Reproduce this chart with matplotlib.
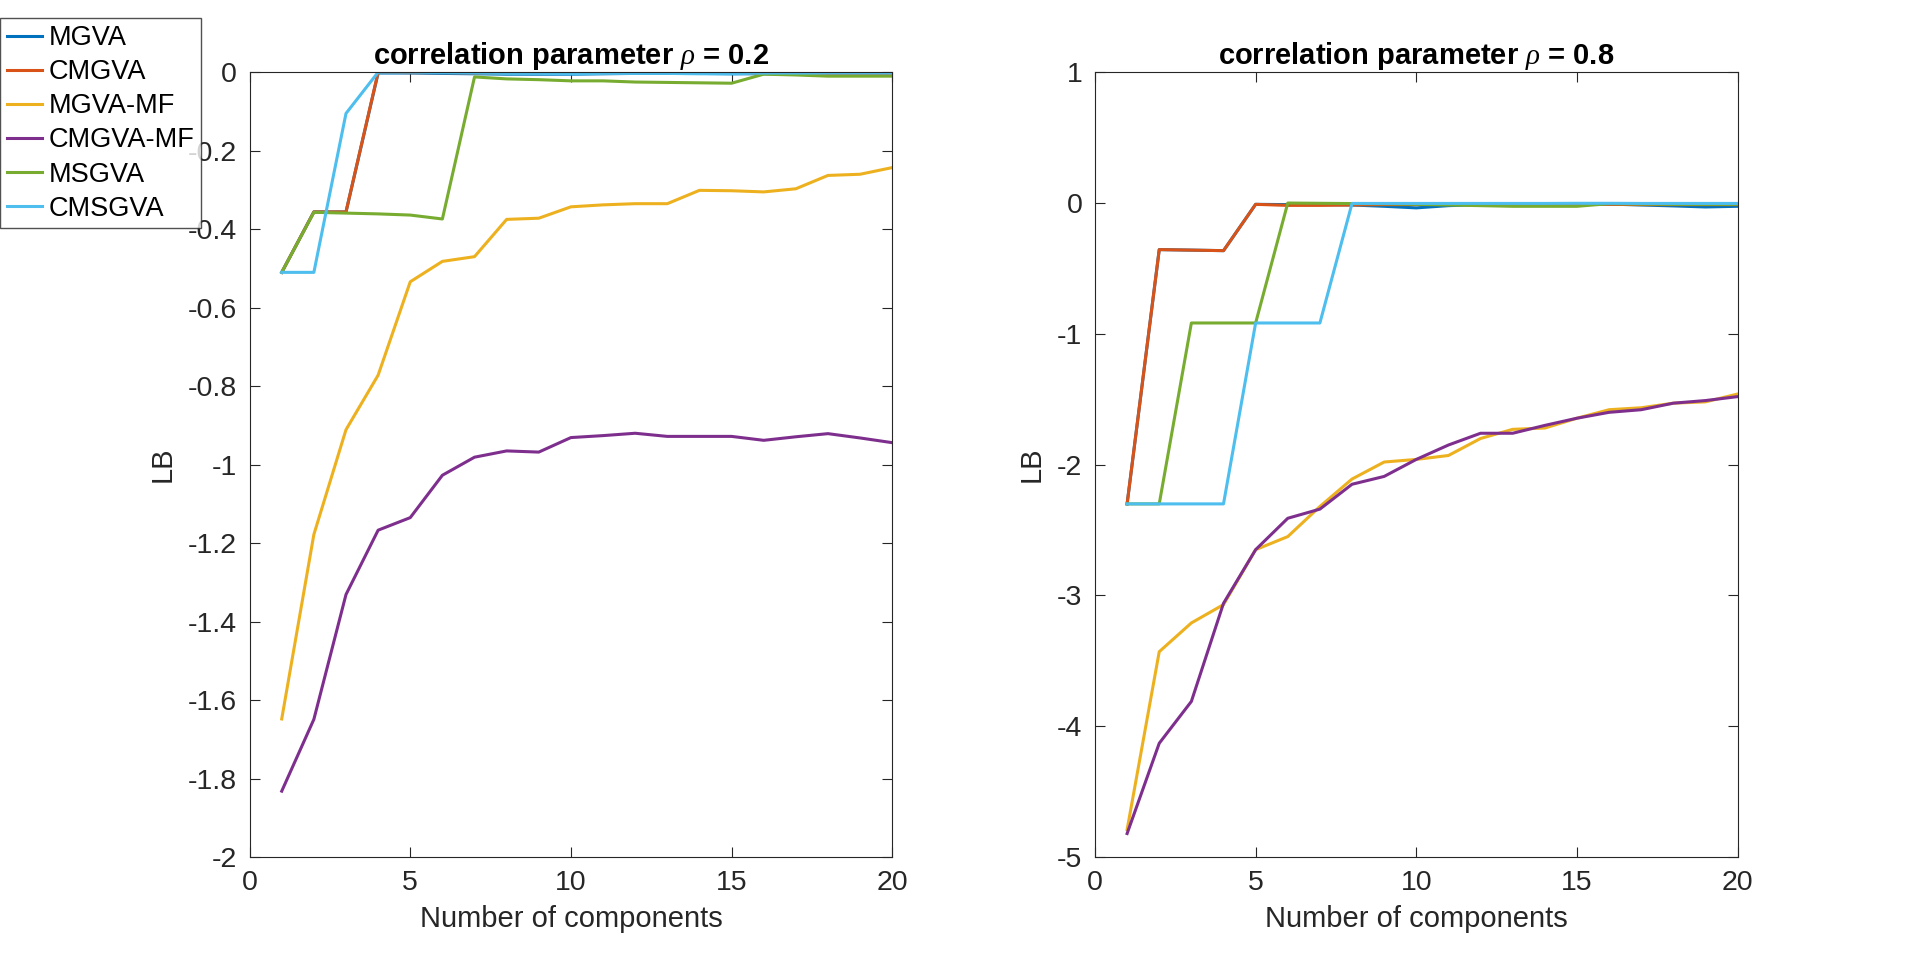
import numpy as np
import matplotlib.pyplot as plt

plt.rcParams['font.family'] = ['Liberation Sans', 'DejaVu Sans']
plt.rcParams['mathtext.fontset'] = 'custom'
plt.rcParams['mathtext.it'] = 'Liberation Serif:italic'

# number of mixture components
k = np.arange(1, 21)

labels = ['MGVA', 'CMGVA', 'MGVA-MF', 'CMGVA-MF', 'MSGVA', 'CMSGVA']
colors = ['#0072BD', '#D95319', '#EDB120', '#7E2F8E', '#77AC30', '#4DBEEE']

# rho = 0.2
mgva_02 = [-0.51, -0.356, -0.356, -0.002, -0.002, -0.003, -0.004, -0.005, -0.005, -0.005,
           -0.004, -0.003, -0.003, -0.003, -0.004, -0.004, -0.004, -0.005, -0.005, -0.005]
cmgva_02 = [-0.51, -0.356, -0.356, 0.0, -0.001, -0.001, -0.002, -0.002, -0.002, -0.002,
            -0.002, -0.001, -0.001, -0.002, -0.002, -0.003, -0.005, -0.007, -0.008, -0.008]
mgvamf_02 = [-1.648, -1.178, -0.911, -0.772, -0.534, -0.482, -0.470, -0.375, -0.372, -0.343,
             -0.338, -0.335, -0.335, -0.301, -0.302, -0.305, -0.297, -0.263, -0.260, -0.243]
cmgvamf_02 = [-1.832, -1.649, -1.331, -1.167, -1.135, -1.027, -0.981, -0.965, -0.968, -0.931,
              -0.926, -0.920, -0.928, -0.928, -0.928, -0.938, -0.929, -0.921, -0.932, -0.944]
msgva_02 = [-0.51, -0.357, -0.359, -0.361, -0.364, -0.374, -0.012, -0.017, -0.019, -0.022,
            -0.022, -0.025, -0.026, -0.027, -0.028, -0.005, -0.007, -0.010, -0.010, -0.010]
cmsgva_02 = [-0.51, -0.51, -0.105, 0.0, 0.0, -0.001, -0.002, -0.003, -0.003, -0.004,
             -0.003, -0.003, -0.003, -0.004, -0.004, -0.002, -0.002, -0.002, -0.002, -0.002]

# rho = 0.8
mgva_08 = [-2.30, -0.356, -0.360, -0.364, -0.010, -0.012, -0.012, -0.015, -0.025, -0.037,
           -0.020, -0.012, -0.012, -0.012, -0.010, -0.008, -0.015, -0.022, -0.030, -0.025]
cmgva_08 = [-2.30, -0.356, -0.360, -0.364, -0.010, -0.018, -0.018, -0.015, -0.012, -0.012,
            -0.010, -0.008, -0.008, -0.010, -0.010, -0.010, -0.012, -0.012, -0.012, -0.012]
mgvamf_08 = [-4.79, -3.43, -3.21, -3.07, -2.65, -2.55, -2.32, -2.11, -1.98, -1.96,
             -1.93, -1.80, -1.73, -1.72, -1.645, -1.58, -1.565, -1.53, -1.52, -1.46]
cmgvamf_08 = [-4.82, -4.13, -3.81, -3.06, -2.65, -2.41, -2.34, -2.15, -2.09, -1.96,
              -1.85, -1.76, -1.76, -1.70, -1.645, -1.60, -1.58, -1.53, -1.51, -1.48]
msgva_08 = [-2.30, -2.30, -0.917, -0.917, -0.917, 0.0, -0.002, -0.004, -0.006, -0.010,
            -0.015, -0.020, -0.025, -0.025, -0.025, -0.005, -0.008, -0.010, -0.010, -0.010]
cmsgva_08 = [-2.30, -2.30, -2.30, -2.30, -0.917, -0.917, -0.917, -0.003, -0.003, -0.003,
             -0.003, -0.003, -0.003, -0.003, -0.002, -0.002, -0.003, -0.003, -0.003, -0.003]

series_02 = [mgva_02, cmgva_02, mgvamf_02, cmgvamf_02, msgva_02, cmsgva_02]
series_08 = [mgva_08, cmgva_08, mgvamf_08, cmgvamf_08, msgva_08, cmsgva_08]

axis_col = '#262626'

fig = plt.figure(figsize=(19.2, 9.63), dpi=100)
ax1 = fig.add_axes([0.13, 0.11, 0.3347, 0.815])
ax2 = fig.add_axes([0.5703, 0.11, 0.3347, 0.815])


def fmt_tick(v, pos):
    v = round(v, 1)
    if abs(v) < 1e-9:
        return '0'
    return '%g' % v


def style(ax, ylim, yticks, title):
    ax.set_xlim(0, 20)
    ax.set_ylim(*ylim)
    ax.set_xticks([0, 5, 10, 15, 20])
    ax.set_yticks(yticks)
    ax.yaxis.set_major_formatter(plt.FuncFormatter(fmt_tick))
    ax.tick_params(direction='in', length=7, width=0.8, top=True, right=True,
                   labelsize=20.5, colors=axis_col, pad=9)
    for sp in ax.spines.values():
        sp.set_color(axis_col)
        sp.set_linewidth(0.8)
    ax.set_xlabel('Number of components', fontsize=21, color=axis_col, labelpad=7)
    ax.set_ylabel('LB', fontsize=21, color=axis_col, labelpad=8)
    ax.set_title(title, fontsize=21, fontweight='bold', pad=6)


lines = []
for ys, lab, c in zip(series_02, labels, colors):
    ln, = ax1.plot(k, ys, color=c, lw=2.2, label=lab)
    lines.append(ln)
for ys, lab, c in zip(series_08, labels, colors):
    ax2.plot(k, ys, color=c, lw=2.2, label=lab)

style(ax1, (-2, 0), np.round(np.arange(-2, 0.01, 0.2), 1),
      r'correlation parameter $\mathit{\rho}$ = 0.2')
style(ax2, (-5, 1), np.arange(-5, 2, 1),
      r'correlation parameter $\mathit{\rho}$ = 0.8')

leg = fig.legend(handles=lines, loc='upper left', bbox_to_anchor=(0.0, 0.981),
                 borderaxespad=0, fontsize=19.5, frameon=True, fancybox=False,
                 handlelength=1.3, handletextpad=0.25, labelspacing=0.3,
                 borderpad=0.25)
leg.get_frame().set_edgecolor(axis_col)
leg.get_frame().set_linewidth(1.0)

fig.savefig('out.png', dpi=100, facecolor='white')
